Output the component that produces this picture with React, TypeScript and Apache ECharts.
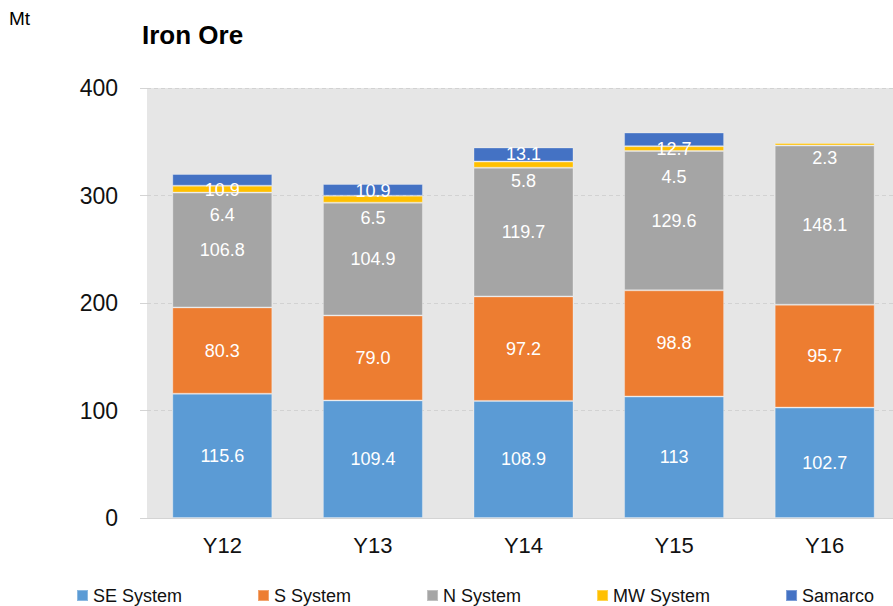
import React, { useEffect, useRef } from "react";
import * as echarts from "echarts";

const categories = ["Y12", "Y13", "Y14", "Y15", "Y16"];
const seSystem = [115.6, 109.4, 108.9, 113, 102.7];
const sSystem = [80.3, 79.0, 97.2, 98.8, 95.7];
const nSystem = [106.8, 104.9, 119.7, 129.6, 148.1];
const mwSystem = [6.4, 6.5, 5.8, 4.5, 2.3];
const samarco: (number | null)[] = [10.9, 10.9, 13.1, 12.7, null];

// label vertical offsets (px) as placed in the reference
const mwLabelOffset = [26, 19, 16, 28, 14];
const samarcoLabelOffset = [10, 1, 0, 10, 0];

const FONT = "'Liberation Sans', Arial, Helvetica, sans-serif";

export default function App() {
  const ref = useRef<HTMLDivElement>(null);
  useEffect(() => {
    document.body.style.margin = "0";
    if (!ref.current) return;
    const chart = echarts.init(ref.current, null, { renderer: "svg" });
    const fmt = (p: any) => {
      const v = p.value;
      if (v === null || v === undefined) return "";
      if (p.seriesName === "S System") return Number(v).toFixed(1);
      return String(v);
    };
    const baseLabel = {
      show: true,
      position: "inside",
      color: "#ffffff",
      fontSize: 18,
      fontFamily: FONT,
      formatter: fmt,
    };
    const itemBorder = { borderColor: "rgba(255,255,255,0.3)", borderWidth: 1 };
    const mk = (name: string, data: (number | null)[], color: string, offsets?: number[]) => ({
      name,
      type: "bar",
      stack: "total",
      barWidth: 100,
      itemStyle: { color, ...itemBorder },
      label: baseLabel,
      data: data.map((v, i) =>
        offsets ? { value: v, label: { offset: [0, offsets[i]] } } : v
      ),
    });
    chart.setOption({
      animation: false,
      textStyle: { fontFamily: FONT },
      graphic: [
        {
          type: "text",
          left: 9,
          top: 9,
          style: { text: "Mt", fontSize: 19, fontFamily: FONT, fill: "#000" },
        },
        {
          type: "text",
          x: 142,
          y: 35,
          style: {
            text: "Iron Ore",
            fontSize: 26,
            fontWeight: "bold",
            fontFamily: FONT,
            fill: "#000",
            verticalAlign: "middle",
          },
        },
      ],
      legend: {
        left: 76,
        top: 586,
        padding: 0,
        itemWidth: 11,
        itemHeight: 11,
        itemGap: 75,
        icon: "rect",
        textStyle: { fontSize: 18, fontFamily: FONT, color: "#111", lineHeight: 19 },
        data: ["SE System", "S System", "N System", "MW System", "Samarco"],
      },
      grid: {
        left: 147,
        top: 88,
        width: 753,
        height: 430,
        show: true,
        backgroundColor: "#e6e6e6",
        borderWidth: 0,
      },
      xAxis: {
        type: "category",
        data: categories,
        axisTick: { show: false },
        axisLine: { show: true, lineStyle: { color: "#d4d4d4", width: 1 } },
        axisLabel: { fontSize: 22, color: "#111", margin: 16, fontFamily: FONT },
      },
      yAxis: {
        type: "value",
        min: 0,
        max: 400,
        interval: 100,
        axisLine: { show: false },
        axisTick: { show: true, length: 7, lineStyle: { color: "#d4d4d4" } },
        axisLabel: { fontSize: 23, color: "#111", margin: 29, fontFamily: FONT },
        splitLine: { show: true, lineStyle: { color: "#d2d2d2", type: [4, 3] } },
      },
      series: [
        mk("SE System", seSystem, "#5b9bd5"),
        mk("S System", sSystem, "#ed7d31"),
        mk("N System", nSystem, "#a5a5a5"),
        mk("MW System", mwSystem, "#ffc000", mwLabelOffset),
        mk("Samarco", samarco, "#4472c4", samarcoLabelOffset),
      ],
    });
    return () => chart.dispose();
  }, []);
  return (
    <div
      style={{ position: "absolute", left: 0, top: 0, width: 893, height: 606, overflow: "hidden" }}
    >
      <div ref={ref} style={{ width: 900, height: 606 }} />
    </div>
  );
}
